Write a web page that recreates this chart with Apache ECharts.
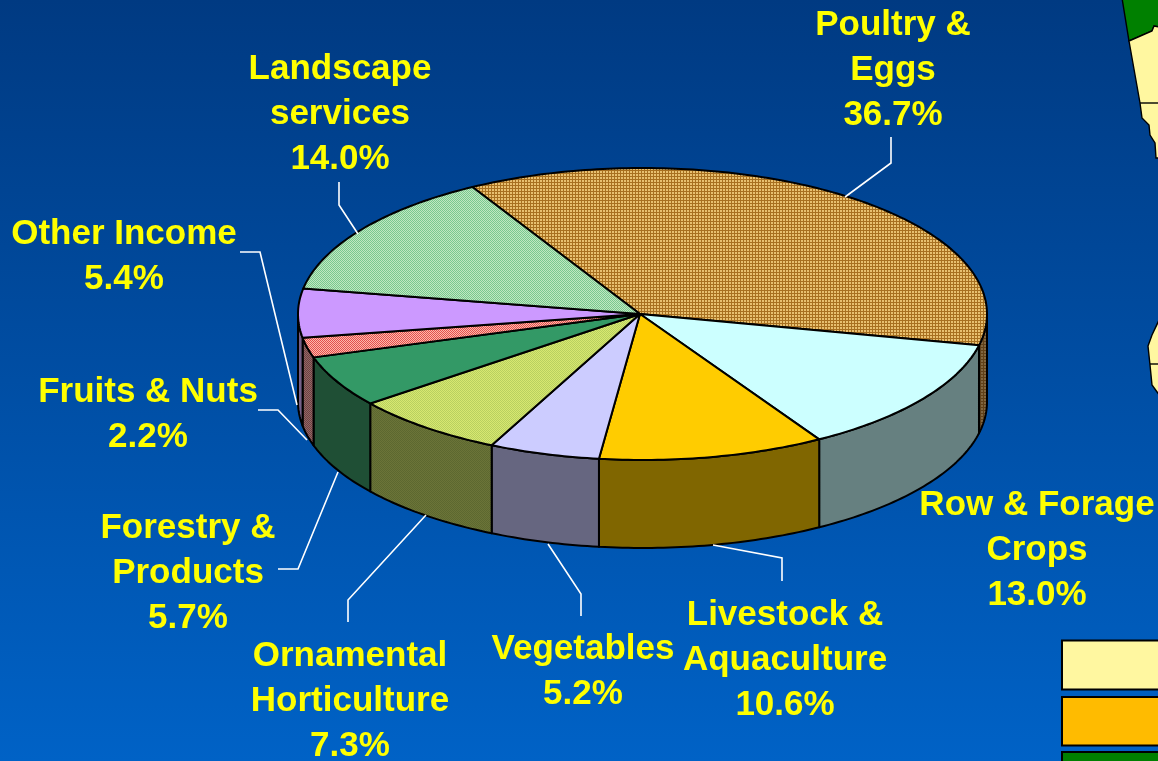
<!DOCTYPE html>
<html>
<head>
<meta charset="utf-8">
<style>html,body{margin:0;padding:0;background:#0050a8}#c{width:1158px;height:761px}</style>
<script src="https://cdn.jsdelivr.net/npm/echarts@6/dist/echarts.min.js"></script>
</head>
<body>
<div id="c"></div>
<script>
// ---- data ----
const categories = ['Poultry &\nEggs','Row & Forage\nCrops','Livestock &\nAquaculture','Vegetables','Ornamental\nHorticulture','Forestry &\nProducts','Fruits & Nuts','Other Income','Landscape\nservices'];
const shares = [36.7,13.0,10.6,5.2,7.3,5.7,2.2,5.4,14.0];

// ---- styling and layout ----
const PIE = {cx:642.5, cy:314, hubX:640, rx:344.5, ry:146, depth:88, start:-119.6};
const FONT = 'bold 35px "Liberation Sans", Arial, sans-serif';
const labelCentres = [[893,70],[1037,550],[785,660],[583,672],[350,701],[188,573],[148,415],[124,257],[340,114]];
const leaders = [
  [[845,197],[891,163],[891,137]],
  null,
  [[782,581],[782,558],[713,545]],
  [[581,616],[581,594],[548,544]],
  [[348,622],[348,600],[426,515]],
  [[278,569],[298,569],[338,472]],
  [[258,410],[278,410],[307,440]],
  [[240,252],[260,252],[297,405]],
  [[358,234],[339,205],[339,182]]
];
function pat(size, paint){
  const c = document.createElement('canvas');
  c.width = c.height = size;
  paint(c.getContext('2d'));
  return {image:c, repeat:'repeat'};
}
function grid(a,b){return pat(3,g=>{g.fillStyle=a;g.fillRect(0,0,3,3);g.fillStyle=b;g.fillRect(2,0,1,3);g.fillRect(0,2,3,1);});}
function check(a,b){return pat(2,g=>{g.fillStyle=a;g.fillRect(0,0,2,2);g.fillStyle=b;g.fillRect(0,0,1,1);g.fillRect(1,1,1,1);});}
const topFills = [grid('#e8c070','#a87020'),'#ccffff','#ffcc00','#ccccff',check('#d8e870','#b8d060'),'#339966',check('#ffb8a8','#e05050'),'#cc99ff',check('#c0e8c0','#78c890')];
const wallFills = [grid('#806640','#604018'),'#668080','#806600','#666680',check('#6c7438','#5c6830'),'#1f4f35',check('#906868','#704040'),'#75608a',check('#648064','#386848')];
const total = shares.reduce((a,b)=>a+b,0);

function pt(deg, dy){
  const t = deg*Math.PI/180;
  return [PIE.cx+PIE.rx*Math.cos(t), PIE.cy+PIE.ry*Math.sin(t)+(dy||0)];
}
function arc(a,b,dy){
  const out=[], n=Math.max(2,Math.ceil(Math.abs(b-a)));
  for(let i=0;i<=n;i++) out.push(pt(a+(b-a)*i/n,dy));
  return out;
}
const edge = {stroke:'#000', lineWidth:2, lineJoin:'round'};

function renderItem(params, api){
  const i = params.dataIndex;
  let sum = 0;
  for(let k=0;k<i;k++) sum += api.value(0,k);
  const a = PIE.start + sum/total*360;
  const b = a + api.value(0)/total*360;
  const children = [];
  // front wall: only the arc portion between 0 and 180 degrees faces the viewer
  const wa = Math.max(a,0), wb = Math.min(b,180);
  if(wb>wa){
    children.push({type:'polygon',shape:{points:arc(wa,wb,0).concat(arc(wb,wa,PIE.depth))},style:Object.assign({fill:wallFills[i]},edge)});
  }
  children.push({type:'polygon',shape:{points:[[PIE.hubX,PIE.cy]].concat(arc(a,b,0))},style:Object.assign({fill:topFills[i]},edge)});
  const ld = leaders[i];
  if(ld) children.push({type:'polyline',shape:{points:ld},style:{fill:'none',stroke:'#fff',lineWidth:1.6}});
  children.push({type:'text',x:labelCentres[i][0],y:labelCentres[i][1],style:{
    text:categories[i]+'\n'+api.value(0).toFixed(1)+'%',
    font:FONT,fill:'#ffff00',align:'center',verticalAlign:'middle',lineHeight:45
  }});
  return {type:'group',children};
}

const deco = [
  {type:'polygon',shape:{points:[[1122,-2],[1160,-2],[1160,27],[1154,26],[1152,31],[1129,41]]},style:{fill:'#008000',stroke:'#000',lineWidth:1.4}},
  {type:'polygon',shape:{points:[[1129,41],[1152,31],[1154,26],[1160,27],[1160,158],[1156,158],[1155,143],[1150,135],[1149,125],[1142,118],[1140,103]]},style:{fill:'#fff7a0',stroke:'#000',lineWidth:1.4}},
  {type:'line',shape:{x1:1140,y1:103,x2:1160,y2:103},style:{stroke:'#000',lineWidth:1.4}},
  {type:'polygon',shape:{points:[[1160,318],[1152,335],[1148,346],[1150,365],[1152,385],[1160,396]]},style:{fill:'#fff7a0',stroke:'#000',lineWidth:1.4}},
  {type:'line',shape:{x1:1150,y1:364,x2:1160,y2:364},style:{stroke:'#000',lineWidth:1.4}},
  {type:'rect',shape:{x:1062,y:640.5,width:110,height:49},style:{fill:'#fff7a0',stroke:'#000',lineWidth:2}},
  {type:'rect',shape:{x:1062,y:697,width:110,height:48.5},style:{fill:'#ffbb00',stroke:'#000',lineWidth:2}},
  {type:'rect',shape:{x:1062,y:752,width:110,height:40},style:{fill:'#008000',stroke:'#000',lineWidth:2}}
];

const chart = echarts.init(document.getElementById('c'), null, {renderer:'canvas'});
chart.setOption({
  animation:false,
  backgroundColor:{type:'linear',x:0,y:0,x2:0,y2:1,colorStops:[{offset:0,color:'#003a82'},{offset:1,color:'#0062c6'}]},
  graphic:{elements:deco.map(d=>Object.assign({silent:true},d))},
  series:[{
    type:'custom',
    coordinateSystem:'none',
    silent:true,
    clip:false,
    renderItem,
    data:shares.map((v,i)=>({name:categories[i].replace('\n',' '),value:v}))
  }]
});
</script>
</body>
</html>
